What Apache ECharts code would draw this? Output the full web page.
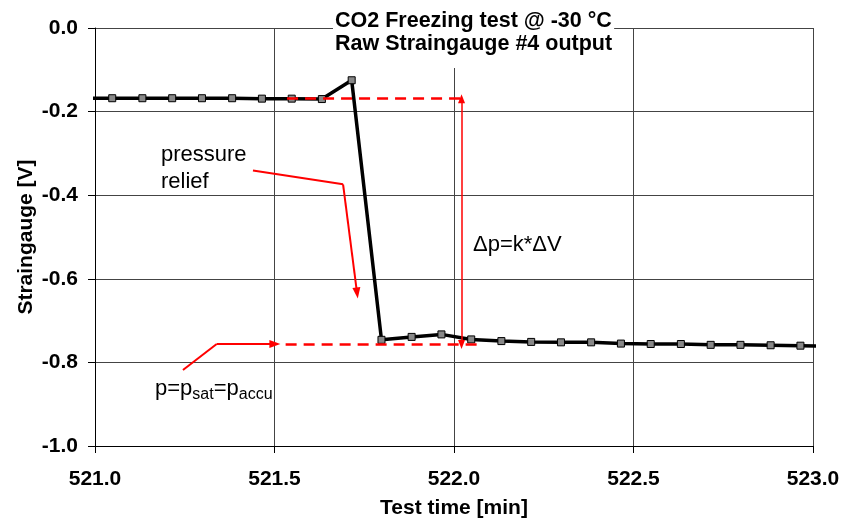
<!DOCTYPE html>
<html>
<head>
<meta charset="utf-8">
<script src="https://cdn.jsdelivr.net/npm/echarts@6/dist/echarts.min.js"></script>
<style>
  html, body { margin: 0; padding: 0; background: #fff; }
  #chart { width: 843px; height: 524px; }
</style>
</head>
<body>
<div id="chart"></div>
<script>
  // test time [min], one sample every 5 s
  var timeMin = [520.965, 521.048, 521.132, 521.215, 521.298, 521.382, 521.465, 521.548, 521.632,
    521.715, 521.798, 521.882, 521.965, 522.048, 522.132, 522.215, 522.298, 522.382, 522.465,
    522.548, 522.632, 522.715, 522.798, 522.882, 522.965, 523.048];
  // raw straingauge #4 output [V]
  var gaugeV = [-0.168, -0.168, -0.168, -0.168, -0.168, -0.168, -0.169, -0.169, -0.170,
    -0.125, -0.746, -0.739, -0.733, -0.745, -0.749, -0.751, -0.752, -0.752, -0.755,
    -0.756, -0.756, -0.758, -0.758, -0.759, -0.760, -0.761];

  // red annotation lines, in data coordinates
  var annoUpper = [[521.535, -0.169], [522.033, -0.169]];
  var annoLower = [[521.531, -0.757], [522.072, -0.757]];
  var annoDelta = [[522.021, -0.169], [522.021, -0.757]];
  var annoRelief = [[521.440, -0.341], [521.691, -0.374], [521.730, -0.634]];
  var annoSat = [[521.245, -0.818], [521.339, -0.756], [521.501, -0.756]];

  var FONT = 'Arial, "Liberation Sans", sans-serif';
  var RED = '#ff0000';

  var seriesData = timeMin.map(function (t, i) { return [t, gaugeV[i]]; });

  function seg(a, b, style, endSymbol, endSize, startSymbol) {
    return [
      { coord: a, symbol: startSymbol || 'none', symbolSize: endSize || 8, lineStyle: style },
      { coord: b, symbol: endSymbol || 'none', symbolSize: endSize || 8 }
    ];
  }

  var dashed = { color: RED, width: 2.5, type: [11, 7] };
  var solid = { color: RED, width: 2, type: 'solid' };
  var thin = { color: RED, width: 1.5, type: 'solid' };

  var myChart = echarts.init(document.getElementById('chart'));
  var option = {
    animation: false,
    backgroundColor: '#fff',
    title: {
      text: 'CO2 Freezing test @ -30 °C\nRaw Straingauge #4 output',
      left: 333,
      top: 0,
      padding: [10, 2, 12, 2],
      backgroundColor: '#fff',
      textStyle: { fontFamily: FONT, fontSize: 21.5, fontWeight: 'bold', color: '#000', lineHeight: 23 }
    },
    grid: { left: 95, right: 30, top: 28, bottom: 75, containLabel: false },
    xAxis: {
      type: 'value',
      min: 521, max: 523, interval: 0.5,
      name: 'Test time [min]',
      nameLocation: 'middle',
      nameGap: 52,
      nameTextStyle: { fontFamily: FONT, fontSize: 21, fontWeight: 'bold', color: '#000' },
      axisLine: { onZero: false, lineStyle: { color: '#000', width: 1 } },
      axisTick: { show: true, inside: false, length: 7, lineStyle: { color: '#000' } },
      axisLabel: {
        margin: 23, fontFamily: FONT, fontSize: 21, fontWeight: 'bold', color: '#000',
        formatter: function (v) { return v.toFixed(1); }
      },
      splitLine: { show: true, lineStyle: { color: '#444', width: 1 } }
    },
    yAxis: {
      type: 'value',
      min: -1, max: 0, interval: 0.2,
      name: 'Straingauge [V]',
      nameLocation: 'middle',
      nameGap: 58,
      nameMoveOverlap: false,
      nameTextStyle: { fontFamily: FONT, fontSize: 21, fontWeight: 'bold', color: '#000' },
      axisLine: { show: true, lineStyle: { color: '#000', width: 1 } },
      axisTick: { show: true, inside: false, length: 7, lineStyle: { color: '#000' } },
      axisLabel: {
        margin: 17, fontFamily: FONT, fontSize: 21, fontWeight: 'bold', color: '#000',
        formatter: function (v) { return v.toFixed(1); }
      },
      splitLine: { show: true, lineStyle: { color: '#444', width: 1 } }
    },
    series: [
      {
        name: 'Straingauge #4',
        type: 'line',
        data: seriesData,
        clip: true,
        symbol: 'rect',
        symbolSize: 7,
        lineStyle: { color: '#000', width: 3.5 },
        itemStyle: { color: '#888', borderColor: '#000', borderWidth: 1 },
        z: 3,
        markLine: {
          silent: true,
          symbol: ['none', 'none'],
          label: { show: false },
          emphasis: { disabled: true },
          data: [
            seg(annoUpper[0], annoUpper[1], dashed),
            seg(annoLower[0], annoLower[1], dashed),
            seg(annoDelta[0], annoDelta[1], thin, 'triangle', [7, 9], 'triangle'),
            seg(annoRelief[0], annoRelief[1], solid),
            seg(annoRelief[1], annoRelief[2], solid, 'triangle', [8, 11]),
            seg(annoSat[0], annoSat[1], solid),
            seg(annoSat[1], annoSat[2], solid, 'triangle', [8, 11])
          ]
        }
      }
    ],
    graphic: [
      {
        type: 'text', x: 161, y: 141.5, silent: true,
        style: { text: 'pressure\nrelief', font: '22px ' + FONT, fill: '#000', lineHeight: 27, verticalAlign: 'top' }
      },
      {
        type: 'text', x: 473, y: 231.5, silent: true,
        style: { text: 'Δp=k*ΔV', font: '22px ' + FONT, fill: '#000', lineHeight: 27, verticalAlign: 'top' }
      },
      {
        type: 'text', x: 155, y: 375.5, silent: true,
        style: {
          text: '{a|p=p}{s|sat}{a|=p}{s|accu}',
          verticalAlign: 'top',
          rich: {
            a: { fontFamily: FONT, fontSize: 22, lineHeight: 27, fill: '#000', color: '#000' },
            s: { fontFamily: FONT, fontSize: 16, lineHeight: 12, verticalAlign: 'bottom', fill: '#000', color: '#000' }
          }
        }
      }
    ]
  };
  option && myChart.setOption(option);
</script>
</body>
</html>
